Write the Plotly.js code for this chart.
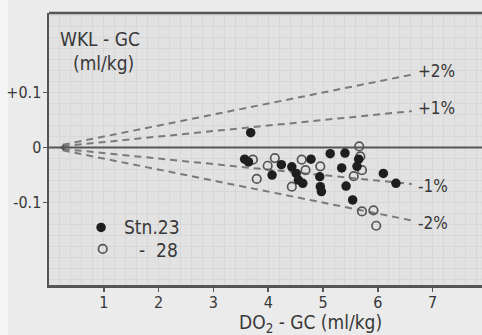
<!DOCTYPE html>
<html>
<head>
<meta charset="utf-8">
<script src="https://cdn.plot.ly/plotly-3.0.1.min.js"></script>
<style>
html,body{margin:0;padding:0;background:#ececec;}
#chart{width:482px;height:335px;}
</style>
</head>
<body>
<div id="chart"></div>
<script>
// Station 23 (filled circles)
const stn23X = [3.68, 3.57, 3.64, 4.07, 4.24, 4.43, 4.51, 4.55, 4.63, 4.78, 4.94, 4.95, 4.97, 5.13, 5.40, 5.34, 5.42, 5.54, 5.62, 5.65, 6.10, 6.33];
const stn23Y = [0.027, -0.021, -0.026, -0.050, -0.031, -0.035, -0.047, -0.059, -0.065, -0.021, -0.053, -0.071, -0.080, -0.011, -0.010, -0.037, -0.070, -0.095, -0.034, -0.021, -0.047, -0.065];
// Station 28 (open circles)
const stn28X = [3.79, 3.72, 3.99, 4.12, 4.43, 4.61, 4.68, 4.95, 5.66, 5.68, 5.71, 5.56, 5.71, 5.92, 5.97];
const stn28Y = [-0.057, -0.022, -0.033, -0.019, -0.071, -0.022, -0.041, -0.034, 0.002, -0.016, -0.041, -0.052, -0.116, -0.114, -0.142];
// Reference lines (percent deviation)
const refPercents = [2, 1, -1, -2];
const refLabels = ['+2%', '+1%', '-1%', '-2%'];
const refStartX = 0.25;
const refEndX = 6.62;
// Axis ticks
const xTickVals = [1, 2, 3, 4, 5, 6, 7];
const yTickVals = [-0.1, 0, 0.1];
const yTickText = ['-0.1', '0', '+0.1'];

const FONT = 'DejaVu Sans Condensed, DejaVu Sans, sans-serif';
const INK = '#383838';

const traces = [];
refPercents.forEach(function(p){
  traces.push({
    x: [refStartX, refEndX],
    y: [p/100*refStartX, p/100*refEndX],
    mode: 'lines', type: 'scatter', showlegend: false, hoverinfo: 'skip',
    line: {color: '#7a7a7a', width: 2, dash: '7px,5px'}
  });
});
traces.push({
  x: [0, 7.95], y: [0, 0], mode: 'lines', type: 'scatter', showlegend: false,
  hoverinfo: 'skip', line: {color: '#555', width: 2}
});
traces.push({
  x: [0.25], y: [0], mode: 'markers', type: 'scatter', showlegend: false,
  marker: {symbol: 'triangle-left', size: 6, color: '#555'}
});
traces.push({
  x: stn28X, y: stn28Y, mode: 'markers', type: 'scatter', name: 'Stn.28', showlegend: false,
  marker: {symbol: 'circle-open', size: 8.5, color: '#555', line: {width: 1.7, color: '#555'}}
});
traces.push({
  x: stn23X, y: stn23Y, mode: 'markers', type: 'scatter', name: 'Stn.23', showlegend: false,
  marker: {symbol: 'circle', size: 9.5, color: '#1e1e1e'}
});
// legend markers
traces.push({x: [0.95], y: [-0.145], mode: 'markers', type: 'scatter', showlegend: false, marker: {symbol: 'circle', size: 9.5, color: '#1e1e1e'}});
traces.push({x: [0.98], y: [-0.184], mode: 'markers', type: 'scatter', showlegend: false, marker: {symbol: 'circle-open', size: 8.5, color: '#555', line: {width: 1.7, color: '#555'}}});

const annotations = [];
refPercents.forEach(function(p, i){
  annotations.push({
    x: refEndX + 0.08, y: p/100*refEndX + (p > 0 ? 0.006 : -0.004), xref: 'x', yref: 'y',
    text: refLabels[i], showarrow: false, xanchor: 'left', yanchor: 'middle',
    font: {family: FONT, size: 17, color: INK}
  });
});
annotations.push({x: 0.17, y: 0.198, xref: 'x', yref: 'y', text: 'WKL - GC', showarrow: false, xanchor: 'left', yanchor: 'middle', font: {family: FONT, size: 19, color: INK}});
annotations.push({x: 0.4, y: 0.153, xref: 'x', yref: 'y', text: '(ml/kg)', showarrow: false, xanchor: 'left', yanchor: 'middle', font: {family: FONT, size: 19, color: INK}});
annotations.push({x: 1.33, y: -0.145, xref: 'x', yref: 'y', text: 'Stn.23', showarrow: false, xanchor: 'left', yanchor: 'middle', font: {family: FONT, size: 19, color: INK}});
annotations.push({x: 1.6, y: -0.186, xref: 'x', yref: 'y', text: '-  28', showarrow: false, xanchor: 'left', yanchor: 'middle', font: {family: FONT, size: 19, color: INK}});
annotations.push({x: (310 - 49) / 433, y: -0.14, xref: 'paper', yref: 'paper', text: 'DO<sub>2</sub> - GC (ml/kg)', showarrow: false, xanchor: 'center', yanchor: 'middle', font: {family: FONT, size: 19, color: INK}});

const layout = {
  width: 482, height: 335,
  margin: {l: 49, r: 0, t: 13, b: 50, pad: 0},
  paper_bgcolor: '#ebebeb',
  plot_bgcolor: '#e2e2e2',
  showlegend: false,
  xaxis: {
    range: [0, 7.9], tickvals: xTickVals, ticks: 'outside', ticklen: 4, tickwidth: 1.5, tickcolor: '#555',
    ticklabelstandoff: -3,
    showline: true, linecolor: '#555', linewidth: 2.5, zeroline: false,
    showgrid: true, gridcolor: '#d7d7d7', gridwidth: 1,
    minor: {dtick: 0.2, tick0: 0, showgrid: true, gridcolor: '#d7d7d7', gridwidth: 1},
    tickfont: {family: FONT, size: 16, color: INK}, fixedrange: true
  },
  yaxis: {
    range: [-0.2496, 0.2444], tickvals: yTickVals, ticktext: yTickText, ticks: 'outside', ticklen: 4, tickwidth: 1.5, tickcolor: '#555',
    ticklabelstandoff: -2,
    showline: true, linecolor: '#555', linewidth: 2.5, zeroline: false,
    showgrid: false,
    minor: {dtick: 0.02, tick0: 0, showgrid: true, gridcolor: '#d7d7d7', gridwidth: 1},
    tickfont: {family: FONT, size: 16, color: INK}, fixedrange: true
  },
  shapes: [
    {type: 'line', xref: 'paper', yref: 'paper', x0: 0, x1: 1, y0: 1, y1: 1, line: {color: '#555', width: 2.5}},
    {type: 'rect', xref: 'paper', yref: 'paper', x0: -0.12, x1: -49/433 + 8/433, y0: -0.2, y1: 1.1, fillcolor: '#f5f5f5', line: {width: 0}, layer: 'below'}
  ],
  annotations: annotations
};

Plotly.newPlot('chart', traces, layout, {displayModeBar: false, staticPlot: true});
</script>
</body>
</html>
